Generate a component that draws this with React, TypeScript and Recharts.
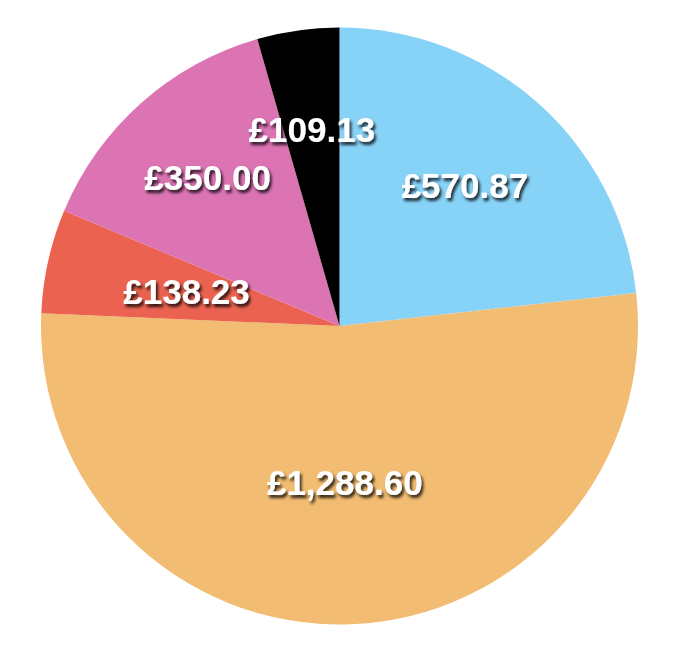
import React from "react";
import { PieChart, Pie, Cell } from "recharts";

const categories = ["A", "B", "C", "D", "E"];
const values = [570.87, 1288.6, 138.23, 350.0, 109.13];
const colors = ["#87D3F8", "#F2BC72", "#EB6350", "#DC74B4", "#000000"];
const labelRadiusFactor = [0.63, 0.525, 0.525, 0.665, 0.665];

const data = categories.map((c, i) => ({ name: c, value: values[i] }));

const RADIAN = Math.PI / 180;

function formatGBP(v: number): string {
  const [intPart, dec] = v.toFixed(2).split(".");
  const withCommas = intPart.replace(/\B(?=(\d{3})+(?!\d))/g, ",");
  return "£" + withCommas + "." + dec;
}

const renderLabel = (props: any) => {
  const { cx, cy, midAngle, outerRadius, index, value } = props;
  const r = outerRadius * labelRadiusFactor[index];
  const x = cx + r * Math.cos(-midAngle * RADIAN);
  const y = cy + r * Math.sin(-midAngle * RADIAN);
  const fid = `shadow-${index}`;
  return (
    <g key={`lbl-${index}`}>
      <defs>
        <filter id={fid} x="-20%" y="-40%" width="140%" height="180%">
          <feDropShadow dx="2" dy="3" stdDeviation="1.6" floodColor="#000" floodOpacity="0.8" />
        </filter>
      </defs>
      <text
        x={x}
        y={y}
        fill="#ffffff"
        textAnchor="middle"
        dominantBaseline="central"
        filter={`url(#${fid})`}
        style={{ fontFamily: "'Liberation Sans', Arial, Helvetica, sans-serif", fontWeight: 700, fontSize: 35 }}
      >
        {formatGBP(value)}
      </text>
    </g>
  );
};

export default function App() {
  return (
    <PieChart width={660} height={632} margin={{ top: 0, right: 0, bottom: 0, left: 0 }}>
      <Pie
        data={data}
        dataKey="value"
        nameKey="name"
        cx={331.5}
        cy={318}
        outerRadius={298.5}
        startAngle={90}
        endAngle={-270}
        stroke="none"
        label={renderLabel}
        labelLine={false}
        isAnimationActive={false}
      >
        {data.map((d, i) => (
          <Cell key={d.name} fill={colors[i]} stroke="none" />
        ))}
      </Pie>
    </PieChart>
  );
}
